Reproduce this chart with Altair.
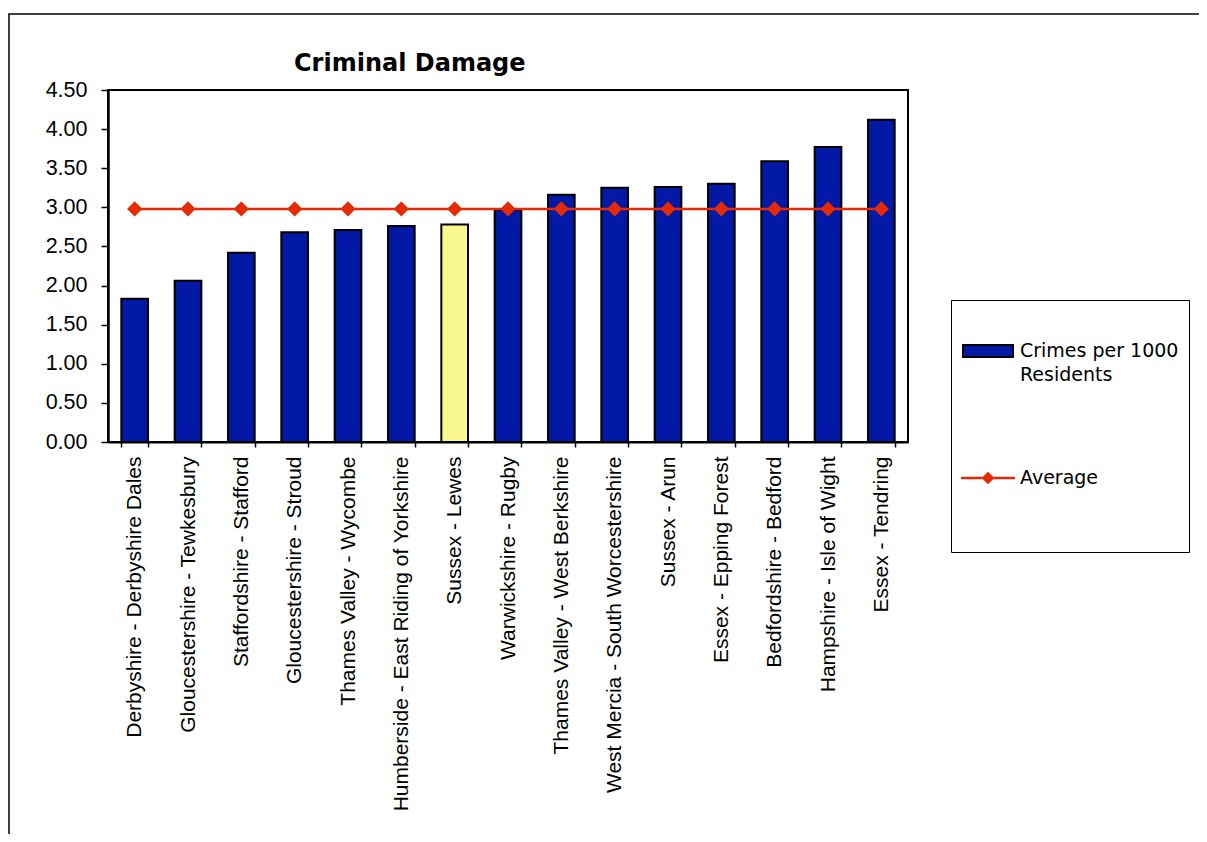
import altair as alt
import pandas as pd

# ---- data ----
regions = [
    "Derbyshire - Derbyshire Dales",
    "Gloucestershire - Tewkesbury",
    "Staffordshire - Stafford",
    "Gloucestershire - Stroud",
    "Thames Valley - Wycombe",
    "Humberside - East Riding of Yorkshire",
    "Sussex - Lewes",
    "Warwickshire - Rugby",
    "Thames Valley - West Berkshire",
    "West Mercia - South Worcestershire",
    "Sussex - Arun",
    "Essex - Epping Forest",
    "Bedfordshire - Bedford",
    "Hampshire - Isle of Wight",
    "Essex - Tendring",
]
crimes_per_1000 = [1.83, 2.06, 2.42, 2.68, 2.71, 2.76, 2.78, 2.97, 3.16, 3.25, 3.26, 3.30, 3.59, 3.77, 4.12]
average = [2.98, 2.98, 2.98, 2.98, 2.98, 2.98, 2.98, 2.98, 2.98, 2.98, 2.98, 2.98, 2.98, 2.98, 2.98]
y_ticks = [0.0, 0.5, 1.0, 1.5, 2.0, 2.5, 3.0, 3.5, 4.0, 4.5]
series_names = ["Crimes per 1000 Residents", "Average"]
highlight_region = "Sussex - Lewes"
chart_title = "Criminal Damage"

BLUE = "#0219A6"
RED = "#E52A05"
YELLOW = "#F9F88E"

bars_df = pd.DataFrame({"region": regions, "value": crimes_per_1000, "series": series_names[0]})
avg_df = pd.DataFrame({"region": regions, "value": average, "series": series_names[1]})
frame_df = pd.DataFrame({"k": [0]})

rect_path = "M-0.96,-0.23H0.96V0.23H-0.96Z"
line_diamond_path = "M-1,-0.01H1V0.01H-1Z M0,-0.19L0.19,0L0,0.19L-0.19,0Z"

legend = alt.Legend(
    title=" ",
    titleOrient="bottom",
    titleFontSize=12,
    titlePadding=12,
    orient="none",
    legendX=843,
    legendY=210,
    direction="vertical",
    padding=10,
    strokeColor="black",
    clipHeight=82,
    rowPadding=45,
    labelOffset=5,
    labelFont="DejaVu Sans",
    labelFontSize=19,
    labelColor="black",
    labelLimit=400,
    labelBaseline="middle",
    labelExpr="datum.label == 'Crimes per 1000 Residents' ? ['Crimes per 1000', 'Residents'] : datum.label",
    symbolSize=2704,
    symbolStrokeWidth=2,
)

fill_scale = alt.Scale(domain=series_names, range=[BLUE, RED])
stroke_scale = alt.Scale(domain=series_names, range=["black", RED])
shape_scale = alt.Scale(domain=series_names, range=[rect_path, line_diamond_path])

x_enc = alt.X(
    "region:N",
    sort=regions,
    scale=alt.Scale(paddingInner=0.5, paddingOuter=0.25),
    axis=alt.Axis(
        title=None,
        labelAngle=-90,
        labelAlign="right",
        labelBaseline="middle",
        labelFont="Liberation Sans",
        labelFontSize=21,
        labelColor="black",
        labelLimit=600,
        labelPadding=9,
        tickSize=5,
        tickColor="black",
        tickWidth=1.5,
        tickBand="extent",
        domainColor="black",
        domainWidth=2,
        grid=False,
    ),
)
y_enc = alt.Y(
    "value:Q",
    scale=alt.Scale(domain=[0, 4.5], nice=False, zero=True),
    axis=alt.Axis(
        title=None,
        values=y_ticks,
        format=".2f",
        labelFont="Liberation Sans",
        labelFontSize=21.5,
        labelColor="black",
        labelPadding=14,
        tickSize=7,
        tickColor="black",
        tickWidth=1.5,
        domainColor="black",
        domainWidth=2.5,
        grid=False,
    ),
)

frame = alt.Chart(frame_df).mark_rect(fillOpacity=0, stroke="black", strokeWidth=1.5).encode(
    x=alt.value(-99), x2=alt.value(1400), y=alt.value(-76), y2=alt.value(1000)
)

bars = alt.Chart(bars_df).mark_bar(strokeWidth=2, opacity=1).encode(
    x=x_enc,
    y=y_enc,
    fill=alt.condition(
        alt.datum.region == highlight_region,
        alt.value(YELLOW),
        alt.Fill("series:N", scale=fill_scale, legend=legend),
    ),
    stroke=alt.Stroke("series:N", scale=stroke_scale, legend=legend),
)

line = alt.Chart(avg_df).mark_line(strokeWidth=2.5, opacity=1).encode(
    x=x_enc,
    y=y_enc,
    stroke=alt.Stroke("series:N", scale=stroke_scale, legend=legend),
)

points = alt.Chart(avg_df).mark_point(filled=True, shape="diamond", size=230, opacity=1, strokeWidth=0).encode(
    x=x_enc,
    y=y_enc,
    fill=alt.Fill("series:N", scale=fill_scale, legend=legend),
)

legend_shape = alt.Chart(avg_df).mark_point(opacity=1).encode(
    x=x_enc,
    y=y_enc,
    shape=alt.Shape("series:N", scale=shape_scale, legend=legend),
).transform_filter("false")

chart = alt.layer(frame, bars, line, points, legend_shape).properties(
    width=800,
    height=352,
    padding={"left": 100, "top": 82, "right": 291, "bottom": 392},
    autosize=alt.AutoSizeParams(type="none"),
    title=alt.Title(
        chart_title,
        anchor="start",
        dx=186,
        dy=85,
        font="DejaVu Sans",
        fontSize=24,
        fontWeight="bold",
        color="black",
        offset=3,
        baseline="alphabetic",
        frame="group",
    ),
).configure(
    background="white",
    style={"guide-label": {"lineHeight": 23.5}},
    view=alt.ViewConfig(stroke="black", strokeWidth=2),
)

chart.save("out.html", embed_options={"renderer": "svg", "actions": False})
